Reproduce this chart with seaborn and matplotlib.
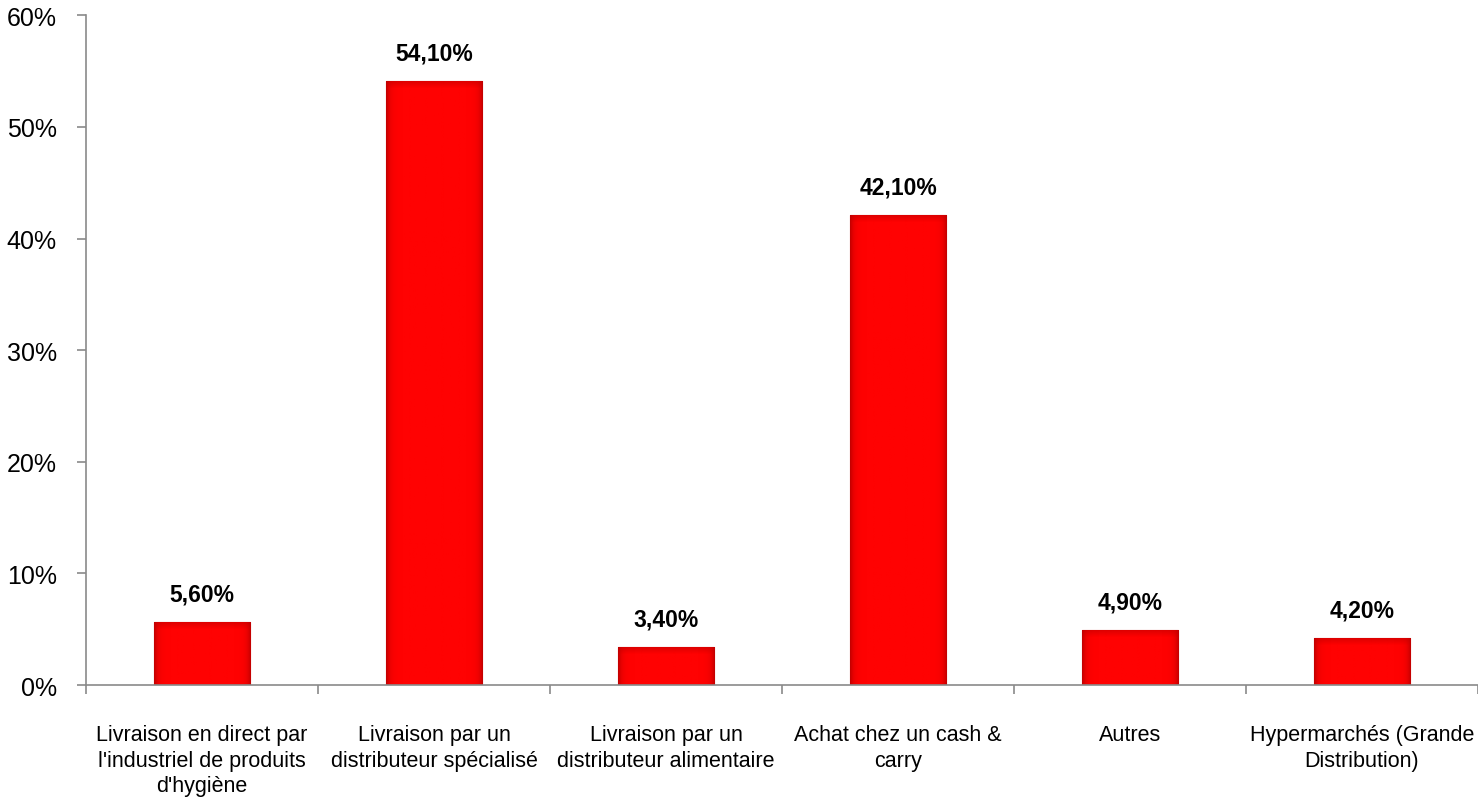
import numpy as np
import pandas as pd
import matplotlib
matplotlib.use("Agg")
import matplotlib.pyplot as plt
import seaborn as sns
from matplotlib.ticker import FixedLocator, FuncFormatter
from matplotlib.colors import LinearSegmentedColormap
from matplotlib import font_manager

categories = [
    "Livraison en direct par\nl'industriel de produits\nd'hygiène",
    "Livraison par un\ndistributeur spécialisé",
    "Livraison par un\ndistributeur alimentaire",
    "Achat chez un cash &\ncarry",
    "Autres",
    "Hypermarchés (Grande\nDistribution)",
]
values = [5.6, 54.1, 3.4, 42.1, 4.9, 4.2]
value_labels = ["5,60%", "54,10%", "3,40%", "42,10%", "4,90%", "4,20%"]
y_ticks = [0, 10, 20, 30, 40, 50, 60]

sns.set_theme(style="white")
names = {f.name for f in font_manager.fontManager.ttflist}
family = ["Liberation Sans Narrow"] if "Liberation Sans Narrow" in names else ["Liberation Sans"]
plt.rcParams["font.family"] = family + ["DejaVu Sans"]

df = pd.DataFrame({"cat": categories, "val": values})

fig = plt.figure(figsize=(14.78, 8.03), dpi=100)
ax = fig.add_axes([0.0582, 0.1457, 0.9418, 0.8340])

sns.barplot(data=df, x="cat", y="val", color="#ff0000", width=0.414,
            edgecolor="#b80000", linewidth=0.8, ax=ax, saturation=1)

# bevelled shading on each bar: darker rim at the sides, darker band at the top
gx = np.linspace(-1, 1, 200)
side = np.tile(np.clip(1 - np.abs(gx) ** 14, 0, 1), (2, 1))
side_cmap = LinearSegmentedColormap.from_list("bev", ["#c00000", "#ff0202"])
top_cmap = LinearSegmentedColormap.from_list(
    "hl", [(0.75, 0.0, 0.0, 0.0), (0.75, 0.0, 0.0, 0.55)])
top_grad = np.tile(np.linspace(1, 0, 50).reshape(-1, 1), (1, 2))
for p in ax.patches:
    x0, y0 = p.get_x(), p.get_y()
    w, h = p.get_width(), p.get_height()
    im = ax.imshow(side, extent=[x0, x0 + w, y0, y0 + h], aspect="auto",
                   cmap=side_cmap, vmin=0, vmax=1, zorder=p.get_zorder() + 0.1,
                   interpolation="bilinear")
    im.set_clip_path(p)
    band = min(0.6, h * 0.3)
    im2 = ax.imshow(top_grad, extent=[x0, x0 + w, y0 + h - band, y0 + h],
                    aspect="auto", cmap=top_cmap, vmin=0, vmax=1,
                    zorder=p.get_zorder() + 0.2, interpolation="bilinear")
    im2.set_clip_path(p)

for i, (v, lab) in enumerate(zip(values, value_labels)):
    ax.text(i, v + 1.5, lab, ha="center", va="bottom", fontsize=16.5,
            fontweight="bold", color="#000000")

ax.set_xlim(-0.5, len(categories) - 0.5)
ax.set_ylim(0, 60)
ax.yaxis.set_major_locator(FixedLocator(y_ticks))
ax.yaxis.set_major_formatter(FuncFormatter(lambda v, p: f"{int(v)}%"))
ax.set_xlabel("")
ax.set_ylabel("")

for s in ["top", "right"]:
    ax.spines[s].set_visible(False)
for s in ["left", "bottom"]:
    ax.spines[s].set_color("#8a8a8a")
    ax.spines[s].set_linewidth(1.2)

ax.tick_params(axis="y", which="major", left=True, length=6.5, width=1.2,
               color="#8a8a8a", labelsize=18, labelcolor="#000000", pad=14.5)
ax.tick_params(axis="x", which="major", bottom=False, labelsize=15.5,
               labelcolor="#000000", pad=22)
ax.xaxis.set_minor_locator(FixedLocator(np.arange(-0.5, len(categories), 1.0)))
ax.tick_params(axis="x", which="minor", bottom=True, length=6.5, width=1.2,
               color="#8a8a8a")
ax.set_xticks(range(len(categories)))
ax.set_xticklabels(categories, linespacing=1.3)

fig.savefig("out.png", dpi=100)
